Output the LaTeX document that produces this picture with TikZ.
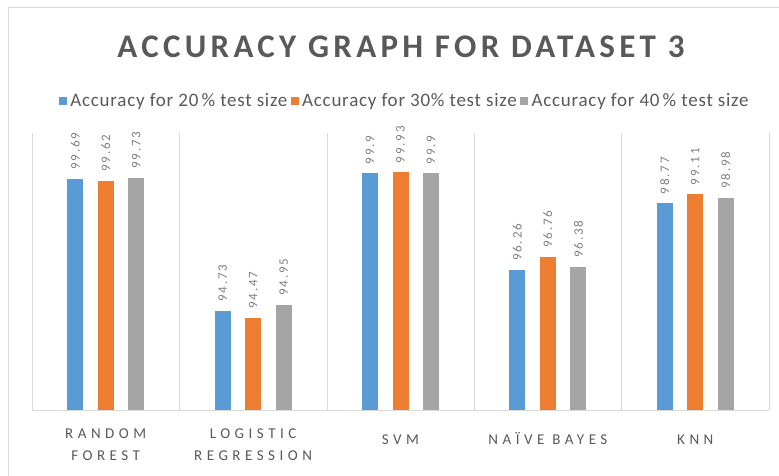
\documentclass[tikz,border=0pt]{standalone}
\usepackage{fontspec}
\usetikzlibrary{positioning}
\setmainfont{Carlito}
\newfontfamily\titlefont{Carlito}[LetterSpace=13]
\newfontfamily\catfont{Carlito}[LetterSpace=30]
\newfontfamily\valfont{Carlito}[LetterSpace=14]
\newfontfamily\legfont{Carlito}[LetterSpace=4]
\definecolor{accblue}{HTML}{5B9BD5}
\definecolor{accorange}{HTML}{ED7D31}
\definecolor{accgray}{HTML}{A5A5A5}
\definecolor{txtgray}{HTML}{595959}
\definecolor{valgray}{HTML}{7F7F7F}
\definecolor{gridgray}{HTML}{D9D9D9}
\tikzset{
  legsq/.style={minimum size=8pt, inner sep=0pt},
  legtxt/.style={inner sep=0pt, text=txtgray, font=\legfont\fontsize{19}{19}\selectfont},
  catlab/.style={inner sep=0pt, text=txtgray, align=center, anchor=north,
    execute at begin node={\strut}, font=\catfont\fontsize{15}{22}\selectfont},
  vallab/.style={inner sep=0pt, rotate=90, anchor=west, text=valgray, font=\valfont\fontsize{13}{13}\selectfont}
}
\begin{document}
\begin{tikzpicture}[x=1pt, y=-1pt]
  \useasboundingbox (0,0) rectangle (779,475);
  \draw[gridgray, line width=1pt] (8,490) -- (8,7) -- (790,7);
  \node[text=txtgray, inner sep=0pt, font=\titlefont\bfseries\fontsize{33}{33}\selectfont] (title) at (401,47) {ACCURACY GRAPH FOR DATASET 3};

  \node[legsq, fill=accblue] (sq1) at (63,101) {};
  \node[legtxt, right=3pt of sq1] (leg1) {Accuracy for 20\,\% test size};
  \node[legsq, fill=accorange, right=3pt of leg1] (sq2) {};
  \node[legtxt, right=3pt of sq2] (leg2) {Accuracy for 30\% test size};
  \node[legsq, fill=accgray, right=3pt of leg2] (sq3) {};
  \node[legtxt, right=3pt of sq3] (leg3) {Accuracy for 40\,\% test size};

  \draw[gridgray] (32,410) -- (769,410);
  \foreach \k in {0,...,5}
    \draw[gridgray] ({32+147.4*\k},133) -- ({32+147.4*\k},410);

  \foreach \la/\va/\vb/\vc [count=\i from 0] in
    {{RANDOM\\FOREST}/99.69/99.62/99.73, {LOGISTIC\\REGRESSION}/94.73/94.47/94.95,
     SVM/99.9/99.93/99.9, NAÏVE BAYES/96.26/96.76/96.38, KNN/98.77/99.11/98.98}{
    \pgfmathsetmacro{\cx}{32+147.4*(\i+0.5)}
    \pgfmathsetmacro{\ta}{410-(\va-91)*26.6}
    \pgfmathsetmacro{\tb}{410-(\vb-91)*26.6}
    \pgfmathsetmacro{\tc}{410-(\vc-91)*26.6}
    \fill[accblue] (\cx-38.5,410) rectangle (\cx-22.5,\ta);
    \fill[accorange] (\cx-8,410) rectangle (\cx+8,\tb);
    \fill[accgray] (\cx+22.5,410) rectangle (\cx+38.5,\tc);
    \node[vallab] (val\i a) at (\cx-30.5,\ta-9) {\va};
    \node[vallab] (val\i b) at (\cx,\tb-9) {\vb};
    \node[vallab] (val\i c) at (\cx+30.5,\tc-9) {\vc};
    \node[catlab] (cat\i) at (\cx,428.6) {\la};
  }
\end{tikzpicture}
\end{document}
